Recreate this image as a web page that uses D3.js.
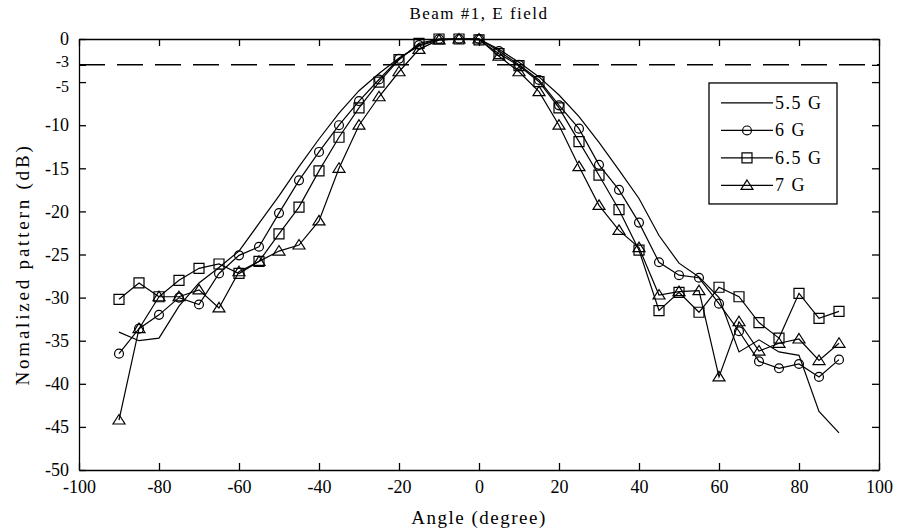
<!DOCTYPE html>
<html>
<head>
<meta charset="utf-8">
<script src="https://cdn.jsdelivr.net/npm/d3@7"></script>
<style>
  body { margin: 0; background: #fff; }
  text { font-family: "Liberation Serif", "DejaVu Serif", serif; fill: #000; }
</style>
</head>
<body>
<div id="chart"></div>
<script>
// measured angles (degree)
var angles = [-90,-85,-80,-75,-70,-65,-60,-55,-50,-45,-40,-35,-30,-25,-20,-15,-10,-5,0,
              5,10,15,20,25,30,35,40,45,50,55,60,65,70,75,80,85,90];

// normalized pattern (dB) per frequency
var g55 = [-34,-35,-34.7,-31,-28.3,-26.5,-24.6,-21.4,-18.2,-14.8,-11.6,-8.6,-6,-4,-2.2,-0.8,-0.1,0,0,
           -1.2,-2.7,-4.4,-6.5,-9,-12,-15.2,-18.5,-22.8,-26,-27.6,-30,-36.3,-34.9,-36.3,-36.7,-43.2,-45.7];
var g60 = [-36.5,-33.6,-32,-30,-30.8,-27.2,-25.1,-24.1,-20.2,-16.4,-13.1,-10,-7.2,-4.7,-2.3,-0.7,0,0,0,
           -1.4,-3,-4.75,-7.7,-10.4,-14.6,-17.5,-21.3,-25.9,-27.4,-27.7,-30.7,-33.9,-37.4,-38.2,-37.7,-39.2,-37.2];
var g65 = [-30.2,-28.3,-29.9,-28,-26.6,-26.1,-27.2,-25.8,-22.6,-19.5,-15.3,-11.4,-8,-5,-2.4,-0.5,0,0,-0.1,
           -1.7,-3.1,-4.95,-8,-11.9,-15.8,-19.8,-24.5,-31.5,-29.4,-31.7,-28.8,-29.9,-32.9,-34.7,-29.5,-32.4,-31.6];
var g70 = [-44.2,-33.6,-29.9,-29.9,-29.1,-31.2,-27,-25.8,-24.6,-23.9,-21.1,-15,-10,-6.7,-3.8,-1.2,-0.1,0,0,
           -2,-3.8,-6.1,-10,-14.8,-19.3,-22.2,-24.2,-29.7,-29.3,-29.2,-39.2,-32.8,-36.2,-35.3,-34.8,-37.3,-35.3];

var seriesNames = ["5.5 G", "6 G", "6.5 G", "7 G"];
var seriesMarkers = ["none", "circle", "square", "triangle"];
var xTicks = [-100,-80,-60,-40,-20,0,20,40,60,80,100];
var yTicks = [0,-3,-5,-10,-15,-20,-25,-30,-35,-40,-45,-50];
var halfPower = -3;

var W = 897, H = 529;
var margin = {top: 39, right: 18, bottom: 59, left: 79},
    width = W - margin.left - margin.right,
    height = H - margin.top - margin.bottom;

var svg = d3.select("#chart")
  .append("svg")
    .attr("width", W)
    .attr("height", H)
  .append("g")
    .attr("transform", "translate(" + margin.left + "," + margin.top + ")");

var x = d3.scaleLinear().domain([-100, 100]).range([0, width]);
var y = d3.scaleLinear().domain([-50, 0]).range([height, 0]);

// plain hyphen for negative labels, like the original
var fmt = function(d) { return String(d); };

// axes with inward ticks on all four sides
var tick = 7;
svg.append("g")
    .attr("transform", "translate(0," + height + ")")
    .call(d3.axisBottom(x).tickValues(xTicks).tickFormat(fmt).tickSize(-tick).tickPadding(tick + 3).tickSizeOuter(0))
    .call(function(g) { g.selectAll("text").style("font-size", "18px"); });
svg.append("g")
    .call(d3.axisTop(x).tickValues(xTicks).tickSize(-tick).tickFormat("").tickSizeOuter(0));
svg.append("g")
    .call(d3.axisLeft(y).tickValues(yTicks).tickFormat(fmt).tickSize(-tick).tickPadding(tick + 3).tickSizeOuter(0))
    .call(function(g) {
      g.selectAll("text").style("font-size", "18px");
      // -3 and -5 sit very close, spread them a little
      g.selectAll(".tick").filter(function(d) { return d === -3; })
        .select("text").style("font-size", "16px").attr("dy", "0.1em");
      g.selectAll(".tick").filter(function(d) { return d === -5; })
        .select("text").style("font-size", "16px").attr("dy", "0.6em");
    });
svg.append("g")
    .attr("transform", "translate(" + width + ",0)")
    .call(d3.axisRight(y).tickValues(yTicks).tickSize(-tick).tickFormat("").tickSizeOuter(0));
svg.selectAll(".domain").attr("stroke", "#000").attr("stroke-width", 1.3);
svg.selectAll(".tick line").attr("stroke", "#000").attr("stroke-width", 1.3);

// -3 dB reference
svg.append("line")
    .attr("x1", 0).attr("x2", width)
    .attr("y1", y(halfPower)).attr("y2", y(halfPower))
    .attr("stroke", "#000")
    .attr("stroke-width", 1.5)
    .attr("stroke-dasharray", "26,12");

var line = d3.line()
    .x(function(d) { return x(d[0]); })
    .y(function(d) { return y(d[1]); });

function markerPath(type) {
  if (type === "circle") return d3.symbol().type(d3.symbolCircle).size(62)();
  if (type === "square") return "M-5,-5L5,-5L5,5L-5,5Z";
  if (type === "triangle") return "M0,-5.5L6,4L-6,4Z";
  return null;
}

var all = [g55, g60, g65, g70];
all.forEach(function(vals, i) {
  var pts = angles.map(function(a, j) { return [a, vals[j]]; });
  svg.append("path")
      .datum(pts)
      .attr("fill", "none")
      .attr("stroke", "#000")
      .attr("stroke-width", 1.2)
      .attr("d", line);
  if (seriesMarkers[i] !== "none") {
    svg.selectAll(".m" + i)
      .data(pts)
      .enter().append("path")
        .attr("class", "m" + i)
        .attr("transform", function(d) { return "translate(" + x(d[0]) + "," + y(d[1]) + ")"; })
        .attr("d", markerPath(seriesMarkers[i]))
        .attr("fill", "none")
        .attr("stroke", "#000")
        .attr("stroke-width", 1.2);
  }
});

// legend
var lg = svg.append("g").attr("transform", "translate(" + (x(57.5)) + "," + (y(-5.1)) + ")");
lg.append("rect")
    .attr("x", 0).attr("y", 0)
    .attr("width", 128).attr("height", 121)
    .attr("fill", "#fff")
    .attr("stroke", "#000")
    .attr("stroke-width", 1.3);
seriesNames.forEach(function(name, i) {
  var yy = 20 + i * 27.5;
  lg.append("line")
      .attr("x1", 12).attr("x2", 64)
      .attr("y1", yy).attr("y2", yy)
      .attr("stroke", "#000").attr("stroke-width", 1.2);
  if (seriesMarkers[i] !== "none") {
    lg.append("path")
        .attr("transform", "translate(38," + yy + ")")
        .attr("d", markerPath(seriesMarkers[i]))
        .attr("fill", "none")
        .attr("stroke", "#000")
        .attr("stroke-width", 1.2);
  }
  lg.append("text")
      .attr("x", 66).attr("y", yy)
      .attr("dominant-baseline", "central")
      .style("font-size", "18px")
      .style("letter-spacing", "1.5px")
      .text(name);
});

// title and axis labels
svg.append("text")
    .attr("x", width / 2)
    .attr("y", -26)
    .attr("text-anchor", "middle")
    .attr("dominant-baseline", "central")
    .style("font-size", "17px")
    .style("letter-spacing", "1.5px")
    .text("Beam #1, E field");

svg.append("text")
    .attr("x", width / 2)
    .attr("y", height + 47)
    .attr("text-anchor", "middle")
    .attr("dominant-baseline", "central")
    .style("font-size", "19px")
    .style("letter-spacing", "1.5px")
    .text("Angle (degree)");

svg.append("text")
    .attr("transform", "rotate(-90)")
    .attr("x", -(y(-25) + 10))
    .attr("y", -57)
    .attr("text-anchor", "middle")
    .attr("dominant-baseline", "central")
    .style("font-size", "19px")
    .style("letter-spacing", "2.8px")
    .text("Nomalized pattern (dB)");
</script>
</body>
</html>
